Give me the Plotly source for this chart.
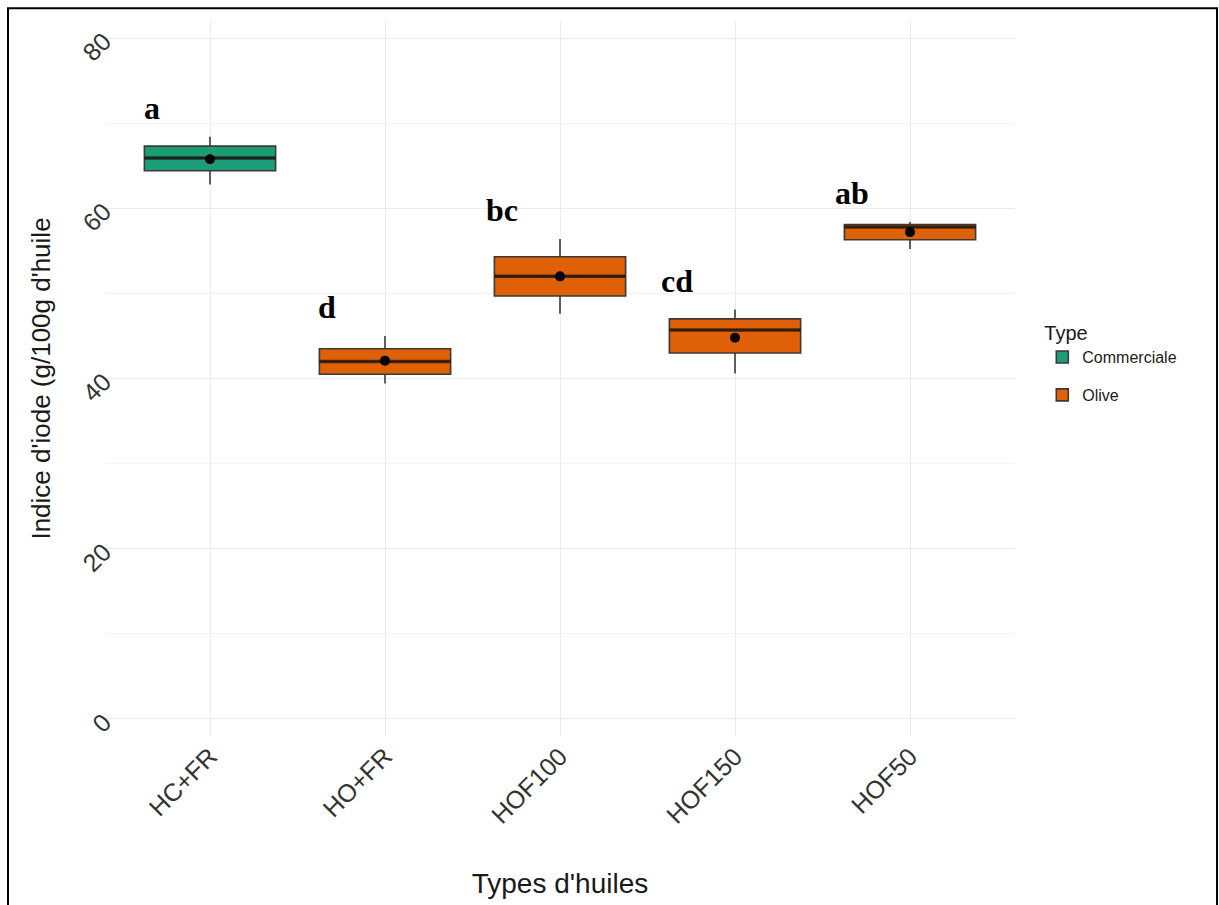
import plotly.graph_objects as go

categories = ["HC+FR", "HO+FR", "HOF100", "HOF150", "HOF50"]
types = ["Commerciale", "Olive", "Olive", "Olive", "Olive"]
q1 = [64.4, 40.5, 49.7, 43.0, 56.3]
median = [65.9, 42.0, 52.0, 45.7, 57.8]
q3 = [67.3, 43.5, 54.3, 47.0, 58.1]
lower = [62.8, 39.4, 47.6, 40.6, 55.2]
upper = [68.4, 45.0, 56.4, 48.1, 58.4]
means = [65.75, 42.1, 52.0, 44.8, 57.2]
letters = ["a", "d", "bc", "cd", "ab"]
yticks = [0, 20, 40, 60, 80]

colors = {"Commerciale": "#1B9E77", "Olive": "#E06008"}
BOXW = 0.75

fig = go.Figure()
xs = list(range(len(categories)))

for t in ["Commerciale", "Olive"]:
    idx = [i for i in xs if types[i] == t]
    fig.add_trace(go.Box(
        x=[xs[i] for i in idx],
        q1=[q1[i] for i in idx], median=[median[i] for i in idx], q3=[q3[i] for i in idx],
        lowerfence=[lower[i] for i in idx], upperfence=[upper[i] for i in idx],
        name=t, legendgroup=t, width=BOXW, whiskerwidth=0,
        fillcolor=colors[t], line=dict(color="#3a3a3a", width=1.6),
        hoverinfo="skip",
    ))

# thicker median lines (ggplot style)
for i in xs:
    fig.add_trace(go.Scatter(
        x=[i - BOXW / 2, i + BOXW / 2], y=[median[i], median[i]], mode="lines",
        line=dict(color="rgba(25,15,5,0.7)", width=3.5), showlegend=False, hoverinfo="skip"))

fig.add_trace(go.Scatter(x=xs, y=means, mode="markers",
                         marker=dict(color="black", size=10), showlegend=False, hoverinfo="skip"))

for i in xs:
    fig.add_annotation(x=i - 0.33, y=upper[i] + 3.4, text="<b>%s</b>" % letters[i], showarrow=False,
                       font=dict(family="Liberation Serif", size=32, color="black"),
                       xanchor="center", yanchor="middle")

# outer frame
fig.add_shape(type="path", xref="paper", yref="paper",
              path="M -0.1066 -0.3 L -0.1066 1.018 L 1.222 1.018 L 1.222 -0.3",
              line=dict(color="black", width=2))

fig.update_layout(
    width=1219, height=905,
    margin=dict(l=105, r=204, t=21, b=165),
    plot_bgcolor="white", paper_bgcolor="white",
    font=dict(family="Liberation Sans", color="#1a1a1a"),
    boxmode="overlay",
    showlegend=True,
    legend=dict(title=dict(text="Type", font=dict(size=20, color="#1a1a1a")),
                x=1.03, y=0.59, xanchor="left", yanchor="top",
                font=dict(size=16, color="#1a1a1a"), tracegroupgap=14),
    xaxis=dict(range=[-0.6, 4.6], tickvals=xs, ticktext=categories, tickangle=-45,
               tickfont=dict(size=25, color="#333333"), showgrid=True, gridcolor="#ebebeb",
               gridwidth=1.2, zeroline=False, showline=False, ticks="",
               title=dict(text="Types d'huiles", font=dict(size=28, color="#1a1a1a"), standoff=45)),
    yaxis=dict(range=[-2, 82], tickvals=yticks, tickangle=-45,
               tickfont=dict(size=25, color="#333333"), showgrid=True, gridcolor="#ebebeb",
               gridwidth=1.2, zeroline=False, showline=False, ticks="",
               minor=dict(dtick=10, tick0=0, showgrid=True, gridcolor="#f3f3f3", gridwidth=1),
               title=dict(text="Indice d'iode (g/100g d'huile", font=dict(size=26, color="#1a1a1a"),
                          standoff=18)),
)

fig.write_html("out.html")
